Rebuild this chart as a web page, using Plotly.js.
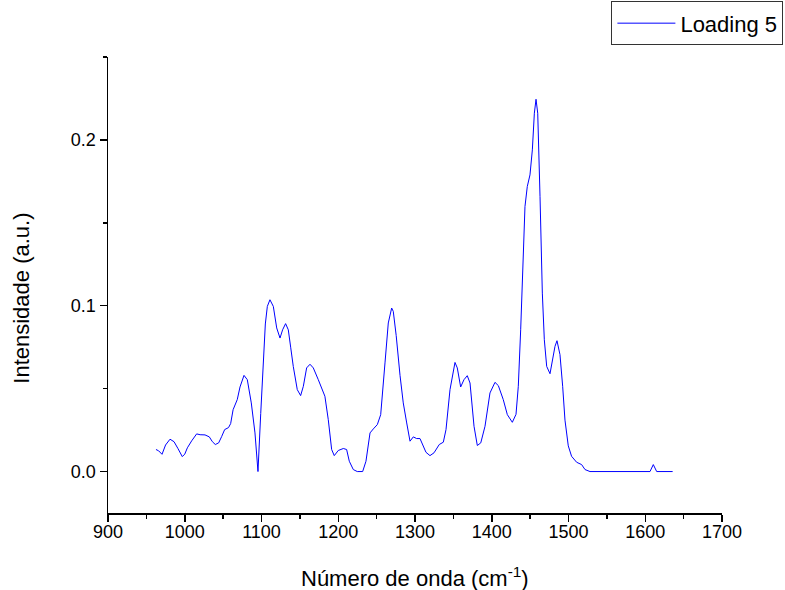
<!DOCTYPE html>
<html>
<head>
<meta charset="utf-8">
<script src="https://cdn.plot.ly/plotly-3.0.1.min.js"></script>
<style>html,body{margin:0;padding:0;background:#fff;}#chart{width:785px;height:590px;}</style>
</head>
<body>
<div id="chart"></div>
<script>
const seriesName = "Loading 5";
const wavenumber = [962.5,966,970.4,975,980.8,986,991,996.8,1000,1003.4,1009,1015.5,1020,1026.4,1032,1036,1039.8,1044.2,1048,1052,1057,1059.8,1063,1068.4,1072,1077.2,1081.5,1086.7,1091.5,1095.4,1099,1102.4,1105,1107.6,1111,1115.4,1119.8,1124.1,1127.5,1131.4,1134.9,1138,1141.4,1146.6,1151,1154.5,1158.8,1163.2,1167.5,1174,1180,1182.6,1187,1191.4,1194.8,1200,1206.6,1210.9,1214.4,1219.6,1224.8,1231.8,1236.1,1241.4,1245.7,1250.9,1255.3,1258,1260.9,1265.2,1269.6,1271.7,1275.5,1280.5,1284.7,1289.2,1293.5,1297.8,1302.1,1306.5,1309.9,1314.3,1319.5,1324.8,1331.6,1336.9,1340.4,1345.6,1352.1,1355.1,1359.5,1363.8,1368.1,1371.7,1376.9,1381.2,1385.7,1391.2,1397.7,1404.2,1408.6,1415,1420.3,1426.8,1431.6,1434.6,1437.7,1440.3,1443.3,1446.3,1449.8,1452.9,1455.5,1457.7,1459.9,1462.9,1465.9,1468.5,1471.6,1475.9,1479.4,1482.4,1485,1488.9,1492.4,1495.4,1499.7,1504,1510.6,1517.1,1521.5,1528,1606.2,1610.5,1614.9,1635.7];
const intensity = [0.0133,0.0125,0.0104,0.016,0.0195,0.018,0.014,0.009,0.0105,0.0143,0.0185,0.0227,0.0222,0.0221,0.0209,0.018,0.0163,0.0173,0.021,0.0253,0.0265,0.0289,0.0373,0.0434,0.051,0.058,0.0554,0.0414,0.0233,0.0,0.035,0.0715,0.089,0.0996,0.1036,0.0996,0.0866,0.0805,0.0855,0.0892,0.0855,0.075,0.0634,0.0494,0.0458,0.0514,0.0625,0.0647,0.0625,0.0554,0.049,0.0454,0.0313,0.0133,0.0096,0.0127,0.0139,0.0133,0.0062,0.0012,0.0,0.0,0.0062,0.0233,0.0257,0.0283,0.0343,0.048,0.0655,0.0896,0.0986,0.0966,0.082,0.058,0.0414,0.0293,0.0183,0.0209,0.0199,0.0199,0.0163,0.0116,0.0096,0.0113,0.0163,0.0177,0.0253,0.0494,0.0658,0.0625,0.051,0.0554,0.0578,0.0534,0.0273,0.0157,0.0173,0.0273,0.0474,0.0538,0.0518,0.0434,0.0343,0.0297,0.0345,0.0514,0.0855,0.1257,0.1598,0.1719,0.1789,0.194,0.2161,0.2245,0.2161,0.1658,0.1076,0.0795,0.0634,0.059,0.0675,0.0755,0.0789,0.0705,0.0514,0.031,0.0155,0.0092,0.0056,0.0042,0.0012,0.0,0.0,0.0042,0.0,0.0];
const xTicks = [900,1000,1100,1200,1300,1400,1500,1600,1700];
const yTicks = [0.0,0.1,0.2];
const yTickText = ["0.0","0.1","0.2"];

const fontFam = "Liberation Sans, Arial, sans-serif";
const trace = {
  x: wavenumber, y: intensity, type: "scatter", mode: "lines",
  name: seriesName, line: {color: "#0000ff", width: 1}
};
const axisCommon = {
  showline: true, linecolor: "#000", linewidth: 1.5, mirror: false,
  showgrid: false, zeroline: false, ticks: "outside", ticklen: 7, tickwidth: 1.5,
  tickcolor: "#000", tickfont: {family: fontFam, size: 18, color: "#000"}
};
const layout = {
  width: 785, height: 590,
  margin: {l: 108, r: 63, t: 57, b: 77, autoexpand: false},
  paper_bgcolor: "#fff", plot_bgcolor: "#fff",
  font: {family: fontFam, color: "#000"},
  showlegend: true,
  legend: {x: 1.1, y: 1.122, xanchor: "right", yanchor: "top",
    bordercolor: "#333", borderwidth: 1, bgcolor: "#fff",
    font: {family: fontFam, size: 22, color: "#000"}, itemwidth: 58},
  xaxis: Object.assign({}, axisCommon, {
    range: [900, 1700], tickvals: xTicks, ticktext: xTicks.map(String),
    ticklabelstandoff: -5,
    minor: {dtick: 50, tick0: 900, ticks: "outside", ticklen: 4, tickwidth: 1.5, tickcolor: "#000"}
  }),
  yaxis: Object.assign({}, axisCommon, {
    range: [-0.025, 0.25], tickvals: yTicks, ticktext: yTickText,
    minor: {dtick: 0.05, tick0: 0, ticks: "outside", ticklen: 4, tickwidth: 1.5, tickcolor: "#000"}
  }),
  annotations: [
    {xref: "paper", yref: "paper", x: 0.5, y: -0.14, xanchor: "center", yanchor: "middle",
     text: "Número de onda (cm<sup>-1</sup>)", showarrow: false,
     font: {family: fontFam, size: 22, color: "#000"}},
    {xref: "paper", yref: "paper", x: -0.14, y: 0.47, xanchor: "center", yanchor: "middle",
     text: "Intensidade (a.u.)", textangle: -90, showarrow: false,
     font: {family: fontFam, size: 22, color: "#000"}}
  ]
};
Plotly.newPlot("chart", [trace], layout, {displayModeBar: false, staticPlot: true});
</script>
</body>
</html>
